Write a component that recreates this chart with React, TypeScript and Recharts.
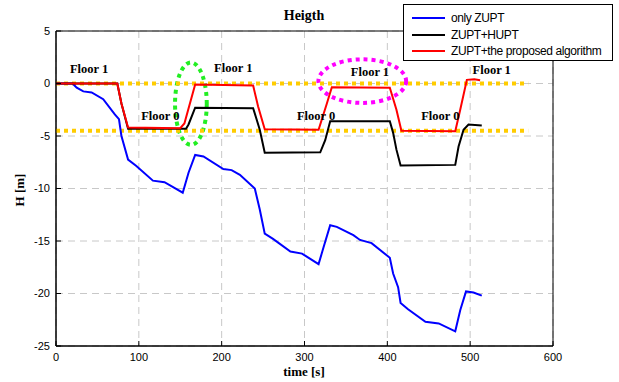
import {
  LineChart,
  Line,
  XAxis,
  YAxis,
  CartesianGrid,
  ReferenceLine,
  ReferenceArea,
  ReferenceDot,
} from "recharts";

// only ZUPT
const blueT = [0, 20, 25, 33, 43, 57, 71, 76, 79, 87, 97, 117, 131, 153, 160, 168, 178, 202, 212, 222, 240, 246, 252, 262, 283, 297, 317, 323, 331, 339, 359, 367, 381, 403, 407, 413, 416, 425, 446, 462, 482, 488, 495, 504, 514];
const blueH = [0, 0, -0.4, -0.75, -0.85, -1.5, -2.95, -3.4, -5.0, -7.25, -7.85, -9.25, -9.4, -10.4, -8.5, -6.8, -6.95, -8.15, -8.25, -8.7, -10.0, -12.0, -14.3, -14.8, -16.0, -16.2, -17.2, -15.6, -13.5, -13.65, -14.45, -14.9, -15.2, -16.6, -18.1, -19.4, -20.9, -21.5, -22.7, -22.85, -23.6, -21.6, -19.8, -19.9, -20.2];

// ZUPT+HUPT
const blackT = [0, 74, 79, 87, 157, 160, 168, 238, 246, 252, 319, 325, 331, 403, 407, 411, 416, 482, 486, 492, 498, 514];
const blackH = [0, 0, -1.9, -4.3, -4.3, -3.9, -2.3, -2.35, -4.4, -6.6, -6.55, -5.4, -3.6, -3.6, -4.7, -6.3, -7.8, -7.75, -6.0, -4.4, -3.9, -4.0];

// ZUPT+the proposed algorithm
const redT = [0, 74, 79, 87, 150, 155, 168, 238, 244, 252, 317, 327, 333, 403, 411, 417, 482, 488, 496, 505, 512];
const redH = [0, 0, -1.9, -4.2, -4.25, -3.8, -0.1, -0.2, -2.2, -4.35, -4.4, -1.9, -0.35, -0.4, -2.5, -4.5, -4.55, -2.5, 0.35, 0.4, 0.3];

const xTicks = [0, 100, 200, 300, 400, 500, 600];
const yTicks = [-25, -20, -15, -10, -5, 0, 5];

// floor reference levels (yellow dotted)
const floorLevels = [0, -4.5];
const floorLineEnd = 570;

// floor annotations
const floorNames = ["Floor 1", "Floor 0", "Floor 1", "Floor 0", "Floor 1", "Floor 0", "Floor 1"];
const floorNameT = [40, 126, 214, 314, 379, 464, 526];
const floorNameH = [1.4, -3.1, 1.55, -3.1, 1.1, -3.1, 1.3];

// highlight ellipses: [t1, t2, h1, h2]
const greenEllipse = [143.7, 182, 2.0, -5.85];
const magentaEllipse = [316.8, 422.7, 2.3, -1.85];

const toRows = (t: number[], h: number[]) => t.map((v, i) => ({ t: v, h: h[i] }));
const blueData = toRows(blueT, blueH);
const blackData = toRows(blackT, blackH);
const redData = toRows(redT, redH);

const legendItems = [
  { name: "only ZUPT", color: "#0000ff" },
  { name: "ZUPT+HUPT", color: "#000000" },
  { name: "ZUPT+the proposed algorithm", color: "#ff0000" },
];

const serif = "'Liberation Serif', 'Times New Roman', serif";
const sans = "'Liberation Sans', Arial, sans-serif";

const makeEllipse = (color: string) => (props: any) => {
  const { x, y, width, height } = props;
  return (
    <ellipse
      cx={x + width / 2}
      cy={y + height / 2}
      rx={Math.abs(width) / 2}
      ry={Math.abs(height) / 2}
      fill="none"
      stroke={color}
      strokeWidth={4}
      strokeDasharray="4 4"
    />
  );
};

const LegendBox = () => (
  <div
    style={{
      position: "absolute",
      left: 403,
      top: 4,
      background: "#fff",
      border: "1px solid #000",
      width: 210,
      height: 57,
      boxSizing: "border-box",
      paddingTop: 5,
      fontFamily: sans,
      fontSize: 12,
    }}
  >
    {legendItems.map((it) => (
      <div key={it.name} style={{ display: "flex", alignItems: "center", height: 16.5 }}>
        <div style={{ width: 33, height: 2, background: it.color, marginLeft: 8, marginRight: 6 }} />
        <span style={{ letterSpacing: -0.4 }}>{it.name}</span>
      </div>
    ))}
  </div>
);

const App = () => {
  return (
    <div style={{ position: "absolute", left: 0, top: 0, width: 619, height: 382, background: "#fff" }}>
      <LineChart
        width={619}
        height={382}
        margin={{ top: 31, right: 66, left: 0, bottom: 0 }}
      >
        <CartesianGrid stroke="#c8c8c8" strokeDasharray="7 5" />
        <XAxis
          dataKey="t"
          type="number"
          domain={[0, 600]}
          ticks={xTicks}
          height={36}
          stroke="#000"
          tickSize={-5}
          tickMargin={12}
          tick={{ fill: "#000", fontSize: 11, fontFamily: sans }}
        />
        <YAxis
          type="number"
          domain={[-25, 5]}
          ticks={yTicks}
          width={56}
          stroke="#000"
          tickSize={-5}
          tickMargin={11}
          tick={{ fill: "#000", fontSize: 11, fontFamily: sans }}
        />
        {/* plot frame */}
        <ReferenceArea x1={0} x2={600} y1={-25} y2={5} fill="none" stroke="#000" strokeWidth={1} fillOpacity={0} />
        {floorLevels.map((lv) => (
          <ReferenceLine
            key={lv}
            segment={[{ x: 0, y: lv }, { x: floorLineEnd, y: lv }]}
            stroke="#ffcc00"
            strokeWidth={4}
            strokeDasharray="4 4"
          />
        ))}
        <Line data={blueData} dataKey="h" name="only ZUPT" stroke="#0000ff" strokeWidth={2} dot={false} isAnimationActive={false} />
        <Line data={blackData} dataKey="h" name="ZUPT+HUPT" stroke="#000000" strokeWidth={2} dot={false} isAnimationActive={false} />
        <Line data={redData} dataKey="h" name="ZUPT+the proposed algorithm" stroke="#ff0000" strokeWidth={2} dot={false} isAnimationActive={false} />
        <ReferenceArea
          x1={greenEllipse[0]}
          x2={greenEllipse[1]}
          y1={greenEllipse[2]}
          y2={greenEllipse[3]}
          shape={makeEllipse("#22ee22")}
        />
        <ReferenceArea
          x1={magentaEllipse[0]}
          x2={magentaEllipse[1]}
          y1={magentaEllipse[2]}
          y2={magentaEllipse[3]}
          shape={makeEllipse("#ff00ff")}
        />
        {floorNames.map((nm, i) => (
          <ReferenceDot
            key={i}
            x={floorNameT[i]}
            y={floorNameH[i]}
            r={0}
            stroke="none"
            label={{ value: nm, position: "center", style: { fontFamily: serif, fontWeight: "bold", fontSize: 12.5, fill: "#000" } }}
          />
        ))}
        <text x={304} y={20} textAnchor="middle" fontFamily={serif} fontWeight="bold" fontSize={14} fill="#000">
          Heigth
        </text>
        <text x={304} y={376} textAnchor="middle" fontFamily={serif} fontWeight="bold" fontSize={13} fill="#000">
          time [s]
        </text>
        <text
          x={24}
          y={190}
          textAnchor="middle"
          transform="rotate(-90 24 190)"
          fontFamily={serif}
          fontWeight="bold"
          fontSize={13}
          fill="#000"
        >
          H [m]
        </text>
      </LineChart>
      <LegendBox />
    </div>
  );
};

export default App;
